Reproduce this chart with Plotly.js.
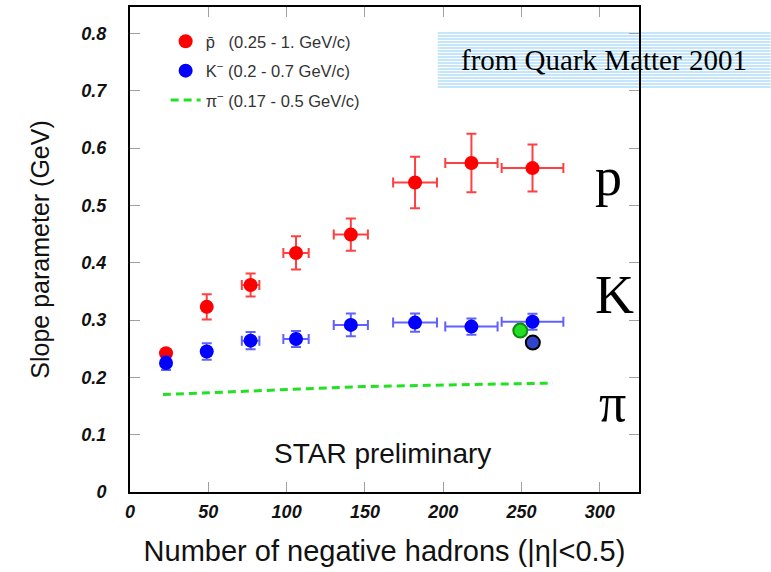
<!DOCTYPE html>
<html>
<head>
<meta charset="utf-8">
<script src="https://cdn.plot.ly/plotly-3.0.1.min.js"></script>
<style>html,body{margin:0;padding:0;background:#fff;}#chart{width:771px;height:572px;}</style>
</head>
<body>
<div id="chart"></div>
<script>
// Data
var nh      = [23, 49, 77, 106, 141, 182, 218, 257];
var nhErr   = [1.5, 2.5, 5.6, 8.1, 10.9, 14, 16.7, 19.7];
var pbar    = [0.242, 0.323, 0.361, 0.417, 0.449, 0.540, 0.574, 0.565];
var pbarErr = [0.006, 0.022, 0.020, 0.029, 0.028, 0.045, 0.051, 0.041];
var kminus  = [0.225, 0.245, 0.264, 0.267, 0.2915, 0.2955, 0.2885, 0.297];
var kErr    = [0.012, 0.0145, 0.015, 0.014, 0.02, 0.016, 0.014, 0.014];
var piX     = [21, 50, 80, 110, 149, 190, 230, 270];
var piY     = [0.170, 0.173, 0.177, 0.180, 0.184, 0.186, 0.188, 0.190];
var greenX  = [249.2];
var greenY  = [0.2815];
var navyX   = [257.2];
var navyY   = [0.2606];
var xTicks  = [0, 50, 100, 150, 200, 250, 300];
var yTicks  = [0, 0.1, 0.2, 0.3, 0.4, 0.5, 0.6, 0.7, 0.8];
var yTickText = ['0', '0.1', '0.2', '0.3', '0.4', '0.5', '0.6', '0.7', '0.8'];
var legendNames = ['p\u0304   (0.25 - 1. GeV/c)', 'K<sup>\u2212</sup> (0.2 - 0.7 GeV/c)', '\u03c0<sup>\u2212</sup> (0.17 - 0.5 GeV/c)'];
var sideLabels = ['p', 'K', '\u03c0'];

var sans = 'Liberation Sans, Arial, sans-serif';
var serif = 'Liberation Serif, Times New Roman, serif';

var traces = [
  {x: nh, y: pbar, type: 'scatter', mode: 'markers', name: legendNames[0], legendgroup: 'a',
   marker: {color: '#ff0000', size: 14},
   error_y: {type: 'data', array: pbarErr, color: 'rgba(255,0,0,0.75)', thickness: 2, width: 5},
   error_x: {type: 'data', array: nhErr, color: 'rgba(255,0,0,0.75)', thickness: 2, width: 5}},
  {x: nh, y: kminus, type: 'scatter', mode: 'markers', name: legendNames[1], legendgroup: 'b',
   marker: {color: '#0000ff', size: 14},
   error_y: {type: 'data', array: kErr, color: 'rgba(30,30,255,0.7)', thickness: 2, width: 5},
   error_x: {type: 'data', array: nhErr, color: 'rgba(30,30,255,0.7)', thickness: 2, width: 5}},
  {x: piX, y: piY, type: 'scatter', mode: 'lines', name: legendNames[2], legendgroup: 'c',
   line: {color: '#22e022', width: 3, dash: '8px,5px'}},
  {x: greenX, y: greenY, type: 'scatter', mode: 'markers', showlegend: false,
   marker: {color: '#22dd22', size: 14, line: {color: '#118811', width: 2}}},
  {x: navyX, y: navyY, type: 'scatter', mode: 'markers', showlegend: false,
   marker: {color: '#3344cc', size: 14, line: {color: '#000000', width: 2}}}
];

var shapes = [];
for (var i = 0; i < 19; i++) {
  var yp = 33 + i * 3; // pixel row for decorative stripes
  var yv = (492 - yp) / 485;
  shapes.push({type: 'line', xref: 'paper', yref: 'paper', x0: (438 - 130) / 509.3, x1: (771 - 130) / 509.3,
    y0: yv, y1: yv, line: {color: '#c4e6fa', width: 2}, layer: 'below'});
}

var annotations = [
  {xref: 'paper', yref: 'paper', x: (604 - 130) / 509.3, y: (492 - 60) / 485, text: 'from Quark Matter 2001',
   showarrow: false, font: {family: serif, size: 29, color: '#000'}, xanchor: 'center', yanchor: 'middle'},
  {xref: 'paper', yref: 'paper', x: (609 - 130) / 509.3, y: (492 - 177) / 485, text: sideLabels[0],
   showarrow: false, font: {family: serif, size: 54, color: '#000'}, xanchor: 'center', yanchor: 'middle'},
  {xref: 'paper', yref: 'paper', x: (615 - 130) / 509.3, y: (492 - 295) / 485, text: sideLabels[1],
   showarrow: false, font: {family: serif, size: 54, color: '#000'}, xanchor: 'center', yanchor: 'middle'},
  {xref: 'paper', yref: 'paper', x: (613 - 130) / 509.3, y: (492 - 403) / 485, text: sideLabels[2],
   showarrow: false, font: {family: serif, size: 54, color: '#000'}, xanchor: 'center', yanchor: 'middle'},
  {xref: 'paper', yref: 'paper', x: (383 - 130) / 509.3, y: (492 - 453) / 485, text: 'STAR preliminary',
   showarrow: false, font: {family: sans, size: 28, color: '#111'}, xanchor: 'center', yanchor: 'middle'}
];

var layout = {
  width: 771, height: 572,
  margin: {l: 130, r: 132, t: 7, b: 80},
  paper_bgcolor: '#fff', plot_bgcolor: 'rgba(0,0,0,0)',
  showlegend: true,
  legend: {x: 0.07, y: 0.965, xanchor: 'left', yanchor: 'top', bgcolor: 'rgba(0,0,0,0)',
    font: {family: sans, size: 16.5, color: '#333'}, traceorder: 'grouped', tracegroupgap: 5},
  xaxis: {range: [0, 325], tickvals: xTicks, ticktext: xTicks.map(String), ticks: 'inside', ticklen: 10,
    tickcolor: '#a0a0a0', tickwidth: 1, showline: true, linecolor: '#000', linewidth: 2, mirror: 'ticks',
    showgrid: false, zeroline: false,
    tickfont: {family: sans, size: 18, weight: 'bold', style: 'italic', color: '#111'}, ticklabelstandoff: 2,
    title: {text: 'Number of negative hadrons (|\u03b7|<0.5)', font: {family: sans, size: 29, color: '#111'}, standoff: 20}},
  yaxis: {range: [0, 0.846], tickvals: yTicks, ticktext: yTickText, ticks: 'inside', ticklen: 10,
    tickcolor: '#a0a0a0', tickwidth: 1, showline: true, linecolor: '#000', linewidth: 2, mirror: 'ticks',
    showgrid: false, zeroline: false,
    tickfont: {family: sans, size: 18, weight: 'bold', style: 'italic', color: '#111'}, ticklabelstandoff: 18,
    title: {text: 'Slope parameter (GeV)', font: {family: sans, size: 25, color: '#111'}, standoff: 25}},
  shapes: shapes,
  annotations: annotations
};

Plotly.newPlot('chart', traces, layout, {displayModeBar: false, staticPlot: true});
</script>
</body>
</html>
